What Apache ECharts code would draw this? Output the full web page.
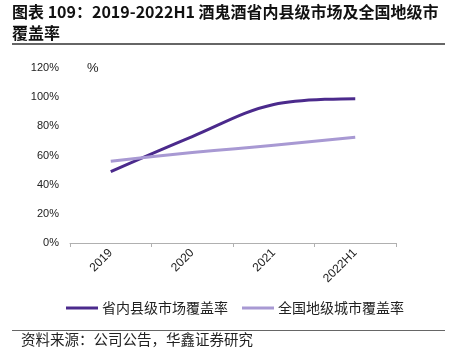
<!DOCTYPE html>
<html><head><meta charset="utf-8">
<script src="https://cdn.jsdelivr.net/npm/echarts@6/dist/echarts.min.js"></script>
<style>html,body{margin:0;padding:0;background:#fff}#c{width:455px;height:356px}</style>
</head><body><div id="c"></div>
<script>
const categories = ['2019', '2020', '2021', '2022H1'];
const countyCoverage = [49, 73, 95, 99];
const cityCoverage = [56, 62, 67, 72.5];
const yTicks = [0, 20, 40, 60, 80, 100, 120];
const seriesNames = ['省内县级市场覆盖率', '全国地级城市覆盖率'];
const titleLines = ['图表 109：2019-2022H1 酒鬼酒省内县级市场及全国地级市', '覆盖率'];
const sourceText = '资料来源：公司公告，华鑫证券研究';

const chart = echarts.init(document.getElementById('c'), null, {renderer: 'canvas'});
const cjk = '"Noto Sans CJK SC", sans-serif';
chart.setOption({
  animation: false,
  backgroundColor: '#fff',
  grid: {left: 70, right: 59, top: 68, bottom: 113},
  xAxis: {
    type: 'category', data: categories, boundaryGap: true,
    axisLine: {lineStyle: {color: '#b0b0b0'}},
    axisTick: {show: true, alignWithLabel: false, length: 4, lineStyle: {color: '#b0b0b0'}},
    axisLabel: {rotate: 45, color: '#222', fontFamily: 'Liberation Sans, Arial', fontSize: 12, margin: 8}
  },
  yAxis: {
    type: 'value', min: 0, max: 120, interval: 20,
    axisLine: {show: false}, axisTick: {show: false}, splitLine: {show: false},
    axisLabel: {formatter: v => yTicks.includes(v) ? v + '%' : '', color: '#222', fontFamily: 'Liberation Sans, Arial', fontSize: 11, margin: 11}
  },
  legend: {
    bottom: 36, left: 61, itemWidth: 32, itemHeight: 3, itemGap: 14,
    icon: 'rect',
    textStyle: {fontFamily: cjk, fontSize: 14, color: '#222', padding: [0, 0, 0, -1]},
    data: seriesNames
  },
  series: [
    {name: seriesNames[0], type: 'line', data: countyCoverage, smooth: 0.35, showSymbol: false,
     lineStyle: {width: 3, color: '#4b2a8c'}, itemStyle: {color: '#4b2a8c'}},
    {name: seriesNames[1], type: 'line', data: cityCoverage, smooth: true, showSymbol: false,
     lineStyle: {width: 3, color: '#a899d3'}, itemStyle: {color: '#a899d3'}}
  ],
  graphic: [
    {type: 'text', left: 12, top: 4, style: {text: titleLines[0], font: 'bold 16px ' + cjk, fill: '#111'}},
    {type: 'text', left: 12, top: 25, style: {text: titleLines[1], font: 'bold 16px ' + cjk, fill: '#111'}},
    {type: 'line', shape: {x1: 12, y1: 44, x2: 445, y2: 44}, style: {stroke: '#333', lineWidth: 1.5}},
    {type: 'text', left: 87, top: 62, style: {text: '%', font: '13px Liberation Sans, Arial', fill: '#222'}},
    {type: 'line', shape: {x1: 12, y1: 330.5, x2: 445, y2: 330.5}, style: {stroke: '#666', lineWidth: 1}},
    {type: 'text', left: 21, top: 332, style: {text: sourceText, font: '14.5px ' + cjk, fill: '#222'}}
  ]
});
</script></body></html>
